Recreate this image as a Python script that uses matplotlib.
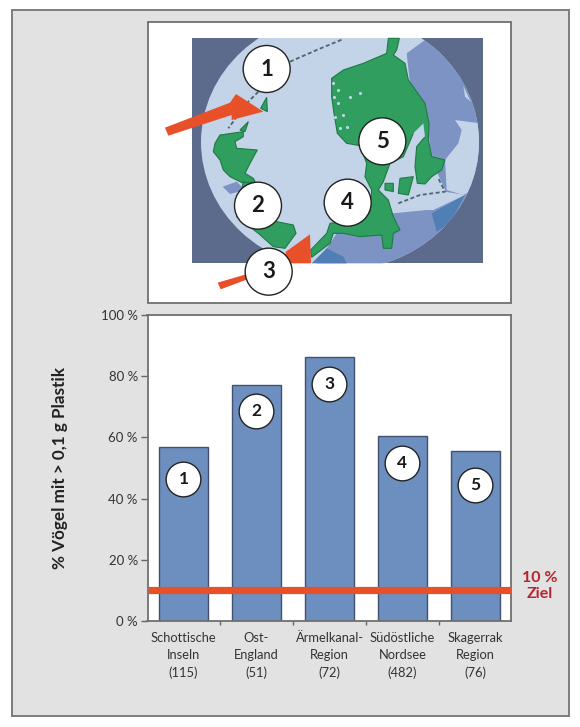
import matplotlib
matplotlib.use("Agg")
import matplotlib.pyplot as plt
from matplotlib.patches import Circle, Ellipse, Polygon, Rectangle

plt.rcParams['font.family'] = ['Lato', 'DejaVu Sans']

regions = ['Schottische\nInseln\n(115)', 'Ost-\nEngland\n(51)', 'Ärmelkanal-\nRegion\n(72)',
           'Südöstliche\nNordsee\n(482)', 'Skagerrak\nRegion\n(76)']
percent = [57, 77, 86.4, 60.4, 55.5]
badge_at = [46.5, 68.5, 77.5, 51.5, 44.5]
numbers = ['1', '2', '3', '4', '5']
yticks = [0, 20, 40, 60, 80, 100]
ziel = 10

# map outlines, traced on a 3x grid and scaled down by z()
norway_denmark = [(775, 115), (808, 115), (800, 150), (790, 165), (825, 190), (835, 240), (860, 275),
                  (885, 310), (897, 370), (895, 420), (905, 470), (945, 480), (935, 510), (905, 530),
                  (885, 552), (862, 550), (855, 500), (860, 440), (885, 410), (850, 400), (820, 470),
                  (780, 490), (760, 545), (745, 570), (775, 600), (790, 650), (810, 690), (790, 700),
                  (785, 745), (760, 745), (755, 705), (690, 710), (640, 700), (610, 700), (600, 730),
                  (545, 772), (542, 750), (590, 700), (600, 670), (640, 665), (720, 640), (725, 570),
                  (705, 530), (710, 490), (690, 437), (650, 430), (622, 400), (612, 340), (605, 290),
                  (605, 235), (640, 210), (700, 190), (770, 160)]
scotland = [(270, 405), (340, 395), (340, 410), (315, 425), (320, 445), (382, 450), (360, 490),
            (345, 520), (370, 535), (375, 545), (340, 550), (300, 530), (280, 510), (270, 480),
            (250, 455), (255, 430)]
england = [(340, 545), (400, 560), (440, 665), (490, 675), (498, 700), (465, 745), (430, 740),
           (385, 700), (320, 650)]
shetland = [(392, 325), (410, 292), (412, 335)]
orkney = [(330, 390), (355, 365), (345, 395)]
islands = [(765, 550), (790, 550), (790, 575), (765, 570)]
zealand = [(810, 535), (850, 530), (835, 585), (805, 580)]

sea_east = [(830, 160), (885, 120), (1000, 150), (1100, 300), (1100, 790), (560, 790),
            (620, 700), (790, 640), (950, 580), (900, 470), (895, 360), (840, 250)]
baltic = [(800, 610), (870, 590), (945, 575), (1005, 585), (910, 630), (890, 630), (790, 640)]
baltic_east = [(975, 360), (1050, 370), (1050, 560), (1000, 585), (950, 570), (945, 480), (985, 430),
               (995, 390)]
streak = [(1000, 258), (1022, 305), (1005, 290)]
sea_blue = [(905, 640), (1005, 585), (960, 670), (920, 695)]
sea_south = [(545, 790), (590, 745), (640, 770), (650, 790)]
sea_irish = [(278, 560), (320, 545), (345, 570), (300, 582)]
lake_marks = [(850, 400), (880, 370), (885, 410), (860, 420)]
fjord_marks = [(610, 250), (625, 270), (612, 290), (625, 310), (615, 350), (640, 345), (630, 385),
               (650, 380), (660, 290), (690, 280)]

arrow_top = [(105, 383), (300, 308), (318, 282), (400, 335), (305, 360), (305, 345), (115, 407)]
arrow_low = [(263, 848), (460, 790), (468, 755), (540, 703), (543, 790), (480, 790), (272, 868)]
circles = {'1': (410, 207), '2': (384, 617), '3': (416, 815), '4': (653, 608), '5': (757, 424)}


def z(pts):
    return [(130 + x / 3, y / 3) for x, y in pts]


fig = plt.figure(figsize=(5.8, 7.27), dpi=100, facecolor='white')

# page layer in pixel coordinates
bg = fig.add_axes([0, 0, 1, 1])
bg.set_xlim(0, 580)
bg.set_ylim(727, 0)
bg.axis('off')
bg.add_patch(Rectangle((12, 10), 557, 705.5, fc='#e2e2e2', ec='#7d7d7d', lw=1.4))
bg.add_patch(Rectangle((147.5, 22), 363.5, 281, fc='white', ec='#6f6f6f', lw=1.3))

# map
bg.add_patch(Rectangle((192, 38), 291, 225, fc='#5c6b8c', ec='none', zorder=2))
globe = Ellipse((340, 142), 278, 256, fc='#c3d3e8', ec='none', zorder=3)
bg.add_patch(globe)
frame = Rectangle((192, 38), 291, 225, transform=bg.transData)
globe.set_clip_path(frame)
for pts, col in [(sea_east, '#7c93c4'), (baltic, '#c3d3e8'), (baltic_east, '#c3d3e8'), (streak, '#c3d3e8'),
                 (sea_blue, '#4f7fb5'), (sea_south, '#4f7fb5'), (sea_irish, '#7c93c4')]:
    patch = bg.add_patch(Polygon(z(pts), fc=col, ec='none', zorder=4))
    patch.set_clip_path(globe)
for pts in [norway_denmark, scotland, england, shetland, orkney, islands, zealand]:
    bg.add_patch(Polygon(z(pts), fc='#2f9e5f', ec='#1f7a45', lw=0.8, zorder=5))
bg.add_patch(Polygon(z(lake_marks), fc='#c3d3e8', ec='none', zorder=6))
fx, fy = zip(*z(fjord_marks))
bg.scatter(fx, fy, s=5, color='#c3d3e8', linewidths=0, zorder=6)

# dashed ferry routes
route_kw = dict(color='#4d6570', lw=1.3, ls=(0, (2.2, 1.4)), zorder=6)
bg.plot(*zip(*z([(480, 185), (560, 150), (640, 117)])), **route_kw)
bg.plot(*zip(*z([(385, 275), (350, 310), (295, 385)])), **route_kw)
bg.plot(*zip(*z([(805, 610), (870, 585), (945, 575), (925, 535)])), **route_kw)

for pts in [arrow_top, arrow_low]:
    bg.add_patch(Polygon(z(pts), fc='#e8502a', ec='none', zorder=7))
for num, (cx, cy) in circles.items():
    px, py = z([(cx, cy)])[0]
    bg.add_patch(Circle((px, py), 23.5, fc='white', ec='#222222', lw=1.0, zorder=8))
    bg.text(px, py, num, ha='center', va='center', fontsize=16, fontweight='bold', color='#1a1a1a', zorder=9)

# bar chart
ax = fig.add_axes([147.5 / 580, 1 - 621 / 727, 363.5 / 580, 306 / 727])
ax.set_xlim(-0.493, 4.487)
ax.set_ylim(0, 100)
ax.set_facecolor('white')
pos = range(len(percent))
ax.bar(pos, percent, width=49 / 73, color='#6d8fc0', edgecolor='#44506e', linewidth=1.0, zorder=2)
ax.axhline(ziel, color='#e8502a', lw=5.2, zorder=3, solid_capstyle='butt')
for i, (b, n) in enumerate(zip(badge_at, numbers)):
    ax.plot(i, b, 'o', ms=25, mfc='white', mec='#222222', mew=1.0, zorder=4)
    ax.text(i, b, n, ha='center', va='center', fontsize=12.5, fontweight='bold', color='#1a1a1a', zorder=5)

ax.set_yticks(yticks)
ax.set_yticklabels([f'{v} %' for v in yticks], fontsize=9.5, color='#333333')
ax.set_xticks([p + 0.5 for p in range(4)])
ax.set_xticklabels([])
ax.tick_params(axis='y', length=5, width=1.0, color='#666666', pad=2)
ax.tick_params(axis='x', length=3, width=1.0, color='#666666')
for s in ax.spines.values():
    s.set_color('#6f6f6f')
    s.set_linewidth(1.3)
for i, r in enumerate(regions):
    ax.annotate(r, (i, 0), xytext=(0, -8), textcoords='offset points', ha='center', va='top',
                fontsize=9.3, color='#333333', linespacing=1.5)
ax.set_ylabel('% Vögel mit > 0,1 g Plastik', fontsize=12.3, fontweight='bold', color='#222222')
ax.yaxis.set_label_coords((68 - 147.5) / 363.5, 0.5)

bg.text(540, 586, f'{ziel} %\nZiel', ha='center', va='center', fontsize=11.5, fontweight='bold',
        color='#b5252f', linespacing=1.1)

fig.savefig('out.png', dpi=100)
